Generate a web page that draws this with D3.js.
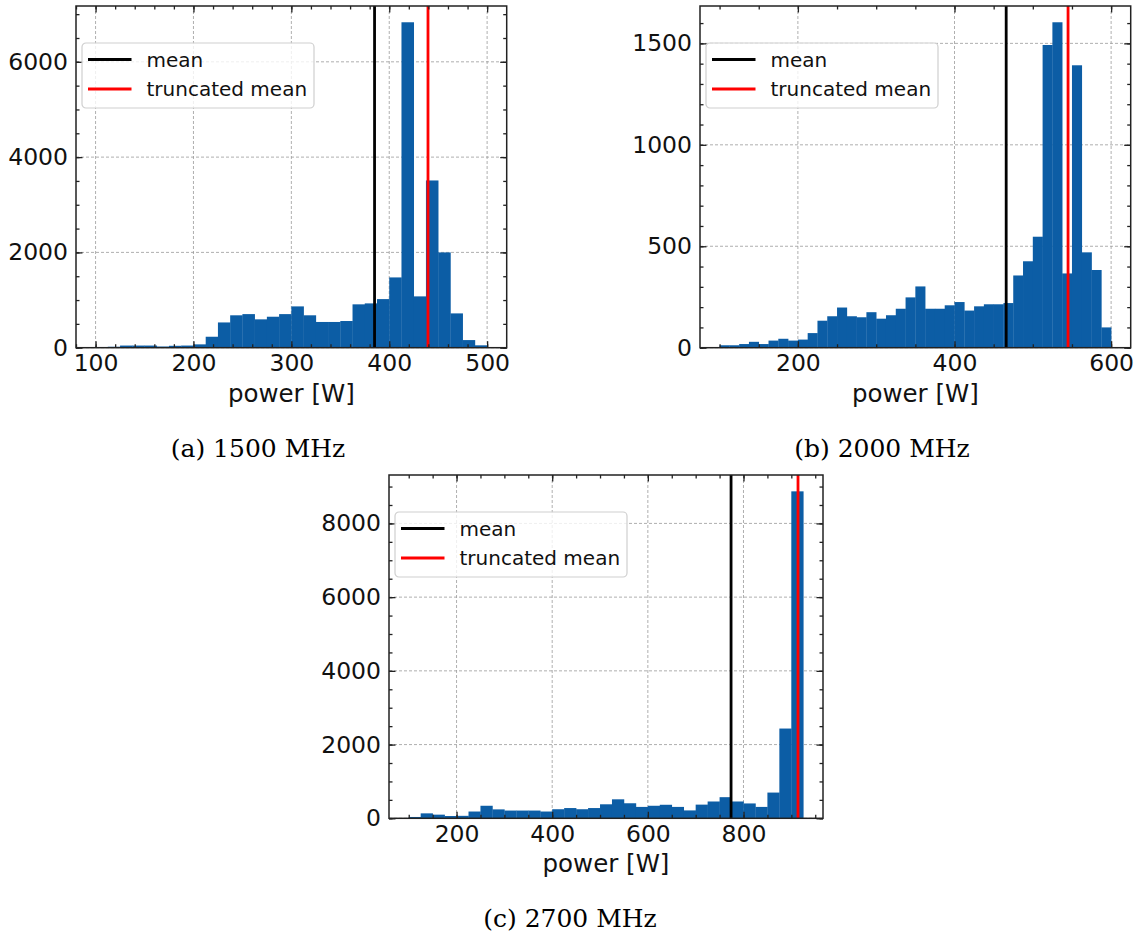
<!DOCTYPE html>
<html>
<head>
<meta charset="utf-8">
<script src="https://cdn.jsdelivr.net/npm/d3@7"></script>
<style>
  body { margin: 0; background: #fff; }
  svg { display: block; }
</style>
</head>
<body>
<div id="chart"></div>
<script>
// histogram counts per bin (bins are equal width over the range)
const rangeA = [100, 500];
const countsA = [15, 20, 45, 45, 45, 25, 40, 45, 70, 230, 530, 680, 705, 595, 650, 705,
                 867, 680, 540, 540, 560, 910, 930, 1020, 1475, 6830, 1077, 3510, 2000, 720, 160, 50];
const meanA = 385, truncA = 439.6;
const xTicksA = [100, 200, 300, 400, 500];
const yTicksA = [0, 2000, 4000, 6000];

const rangeB = [100, 600];
const countsB = [12, 12, 18, 29, 18, 35, 44, 35, 40, 72, 133, 155, 198, 155, 150, 175,
                 143, 160, 192, 248, 302, 192, 192, 209, 225, 183, 204, 214, 214, 220,
                 356, 426, 547, 1492, 1604, 366, 1392, 470, 383, 100];
const meanB = 466, truncB = 545;
const xTicksB = [200, 400, 600];
const yTicksB = [0, 500, 1000, 1500];

const rangeC = [100, 925];
const countsC = [36, 134, 99, 62, 67, 184, 340, 242, 210, 210, 210, 184, 246, 278, 246, 278,
                 380, 515, 408, 309, 340, 367, 309, 214, 371, 456, 573, 456, 403, 309, 698, 2435, 8870];
const meanC = 774, truncC = 914;
const xTicksC = [200, 400, 600, 800];
const yTicksC = [0, 2000, 4000, 6000, 8000];

const legendLabels = ['mean', 'truncated mean'];
const captions = ['(a) 1500 MHz', '(b) 2000 MHz', '(c) 2700 MHz'];

var svg = d3.select('#chart').append('svg')
    .attr('width', 1141)
    .attr('height', 935)
    .style('background', '#fff');

var spineColor = '#222';

function drawPanel(p) {
    var g = svg.append('g');
    var lo = p.range[0], hi = p.range[1], pad = (hi - lo) * 0.05;
    var x = d3.scaleLinear().domain([lo - pad, hi + pad]).range([p.x0, p.x1]);
    var y = d3.scaleLinear().domain([0, d3.max(p.counts) * 1.05]).range([p.y1, p.y0]);
    var bw = (hi - lo) / p.counts.length;

    // dashed grid on major ticks
    g.selectAll('line.gx').data(p.xTicks).enter().append('line')
        .attr('x1', d => x(d)).attr('x2', d => x(d))
        .attr('y1', p.y0).attr('y2', p.y1)
        .attr('stroke', '#9a9a9a').attr('stroke-width', 0.8).attr('stroke-dasharray', '3,2');
    g.selectAll('line.gy').data(p.yTicks).enter().append('line')
        .attr('x1', p.x0).attr('x2', p.x1)
        .attr('y1', d => y(d)).attr('y2', d => y(d))
        .attr('stroke', '#9a9a9a').attr('stroke-width', 0.8).attr('stroke-dasharray', '3,2');

    // bars
    g.selectAll('rect.bar').data(p.counts).enter().append('rect')
        .attr('x', (d, i) => x(lo + i * bw))
        .attr('width', (d, i) => x(lo + (i + 1) * bw) - x(lo + i * bw) + 0.3)
        .attr('y', d => y(d))
        .attr('height', d => y(0) - y(d))
        .attr('fill', '#0C5DA5');

    // mean lines
    g.append('line').attr('x1', x(p.mean)).attr('x2', x(p.mean))
        .attr('y1', p.y0).attr('y2', p.y1).attr('stroke', '#000').attr('stroke-width', 2.8);
    g.append('line').attr('x1', x(p.trunc)).attr('x2', x(p.trunc))
        .attr('y1', p.y0).attr('y2', p.y1).attr('stroke', '#ff0000').attr('stroke-width', 2.8);

    // ticks, pointing inwards on all four sides
    var xMinor = d3.range(Math.ceil((lo - pad) / p.xMinor) * p.xMinor, hi + pad, p.xMinor);
    var yMinor = d3.range(0, y.domain()[1], p.yMinor);
    function tickAxis(axis, tx, ty) {
        var a = g.append('g').attr('transform', 'translate(' + tx + ',' + ty + ')').call(axis);
        a.select('.domain').remove();
        a.selectAll('line').attr('stroke', spineColor).attr('stroke-width', 1.3);
        a.selectAll('text').attr('font-family', 'DejaVu Sans').attr('font-size', 23.5).attr('fill', '#111');
        return a;
    }
    tickAxis(d3.axisBottom(x).tickValues(xMinor).tickSize(-3.5).tickFormat(''), 0, p.y1);
    tickAxis(d3.axisTop(x).tickValues(xMinor).tickSize(-3.5).tickFormat(''), 0, p.y0);
    tickAxis(d3.axisLeft(y).tickValues(yMinor).tickSize(-3.5).tickFormat(''), p.x0, 0);
    tickAxis(d3.axisRight(y).tickValues(yMinor).tickSize(-3.5).tickFormat(''), p.x1, 0);
    tickAxis(d3.axisBottom(x).tickValues(p.xTicks).tickSize(-6.5).tickPadding(7).tickFormat(d3.format('d')), 0, p.y1);
    tickAxis(d3.axisTop(x).tickValues(p.xTicks).tickSize(-6.5).tickFormat(''), 0, p.y0);
    tickAxis(d3.axisLeft(y).tickValues(p.yTicks).tickSize(-6.5).tickPadding(8).tickFormat(d3.format('d')), p.x0, 0);
    tickAxis(d3.axisRight(y).tickValues(p.yTicks).tickSize(-6.5).tickFormat(''), p.x1, 0);

    // frame
    g.append('rect').attr('x', p.x0).attr('y', p.y0)
        .attr('width', p.x1 - p.x0).attr('height', p.y1 - p.y0)
        .attr('fill', 'none').attr('stroke', spineColor).attr('stroke-width', 1.5);

    // axis label
    g.append('text').attr('x', (p.x0 + p.x1) / 2).attr('y', p.y1 + 54)
        .attr('text-anchor', 'middle').attr('font-family', 'DejaVu Sans')
        .attr('font-size', 24.5).attr('fill', '#111').text('power [W]');

    // legend
    var lx = p.x0 + 6, ly = p.y0 + 37;
    var lg = g.append('g').attr('transform', 'translate(' + lx + ',' + ly + ')');
    lg.append('rect').attr('width', 232).attr('height', 65).attr('rx', 4)
        .attr('fill', '#fff').attr('fill-opacity', 0.8)
        .attr('stroke', '#cfcfcf').attr('stroke-width', 1.2);
    var rows = lg.selectAll('g.row').data(legendLabels).enter().append('g')
        .attr('transform', (d, i) => 'translate(0,' + (16.5 + i * 29.5) + ')');
    rows.append('line').attr('x1', 6).attr('x2', 49.5)
        .attr('stroke', (d, i) => i === 0 ? '#000' : '#ff0000').attr('stroke-width', 2.8);
    rows.append('text').attr('x', 64.5).attr('dy', '0.35em')
        .attr('font-family', 'DejaVu Sans').attr('font-size', 20).attr('fill', '#111')
        .text(d => d);

    // caption
    svg.append('text').attr('x', p.capX).attr('y', p.capY)
        .attr('text-anchor', 'middle').attr('font-family', 'DejaVu Serif')
        .attr('font-size', 25).attr('fill', '#000').text(p.caption);
}

drawPanel({ range: rangeA, counts: countsA, mean: meanA, trunc: truncA,
    xTicks: xTicksA, yTicks: yTicksA, xMinor: 20, yMinor: 500,
    x0: 76, x1: 506.7, y0: 6, y1: 347.7, caption: captions[0], capX: 258, capY: 456.5 });
drawPanel({ range: rangeB, counts: countsB, mean: meanB, trunc: truncB,
    xTicks: xTicksB, yTicks: yTicksB, xMinor: 50, yMinor: 100,
    x0: 700, x1: 1130.7, y0: 6, y1: 347.7, caption: captions[1], capX: 882, capY: 456.5 });
drawPanel({ range: rangeC, counts: countsC, mean: meanC, trunc: truncC,
    xTicks: xTicksC, yTicks: yTicksC, xMinor: 50, yMinor: 500,
    x0: 389, x1: 823, y0: 475, y1: 818.3, caption: captions[2], capX: 570, capY: 926.5 });
</script>
</body>
</html>
